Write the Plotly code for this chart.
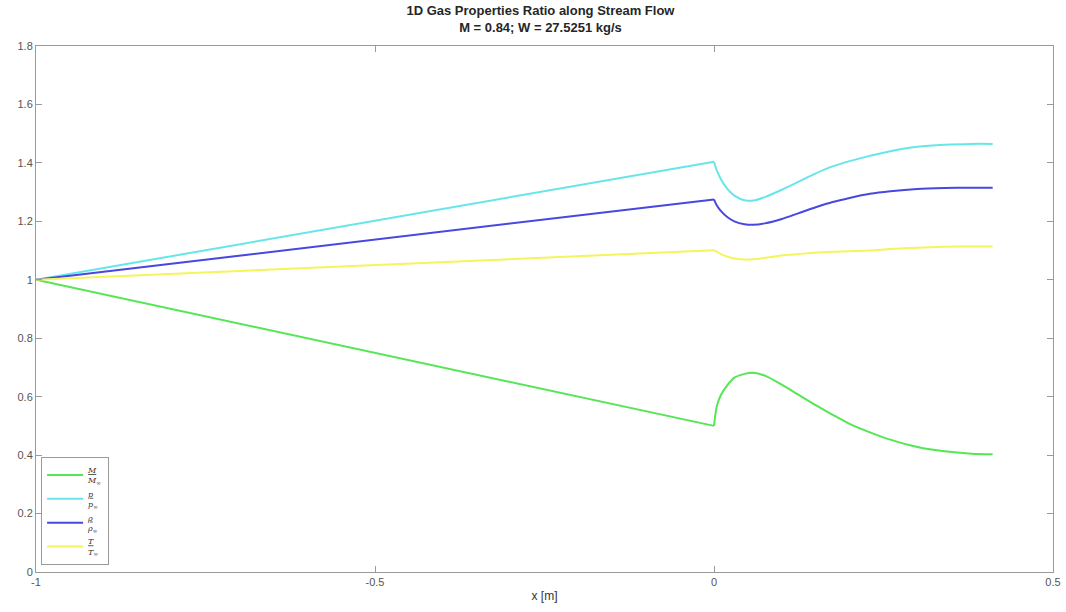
import plotly.graph_objects as go

# Station coordinates along the stream [m]
x = [-1.0, 0.0, 0.004, 0.01, 0.02, 0.03, 0.045, 0.058, 0.075, 0.1, 0.125,
     0.15, 0.175, 0.2, 0.23, 0.26, 0.3, 0.34, 0.38, 0.411]

# Property ratios relative to free-stream values
mach_ratio = [1.0, 0.500, 0.566, 0.605, 0.640, 0.665, 0.678, 0.682, 0.672, 0.641,
              0.606, 0.571, 0.538, 0.507, 0.478, 0.453, 0.428, 0.413, 0.405, 0.403]
pressure_ratio = [1.0, 1.404, 1.375, 1.345, 1.310, 1.288, 1.272, 1.271, 1.283, 1.308,
                  1.336, 1.364, 1.388, 1.406, 1.424, 1.440, 1.455, 1.462, 1.465, 1.465]
density_ratio = [1.0, 1.275, 1.255, 1.236, 1.214, 1.200, 1.190, 1.188, 1.193, 1.208,
                 1.228, 1.248, 1.266, 1.280, 1.294, 1.303, 1.311, 1.314, 1.315, 1.315]
temperature_ratio = [1.0, 1.101, 1.096, 1.088, 1.079, 1.073, 1.069, 1.070, 1.075, 1.083,
                     1.088, 1.093, 1.096, 1.098, 1.100, 1.105, 1.110, 1.113, 1.114, 1.114]

series = [
    ("<u><i>M</i></u><br><i>M</i><sub>∞</sub>", mach_ratio, "#55e655"),
    ("<u><i>p</i></u><br><i>p</i><sub>∞</sub>", pressure_ratio, "#66e6ea"),
    ("<u><i>ρ</i></u><br><i>ρ</i><sub>∞</sub>", density_ratio, "#4848e0"),
    ("<u><i>T</i></u><br><i>T</i><sub>∞</sub>", temperature_ratio, "#f4f45c"),
]

fig = go.Figure()
for i, (name, vals, color) in enumerate(series):
    grp = f"g{i}"
    # upstream ramp: straight segment up to the inlet at x = 0
    fig.add_trace(go.Scatter(x=x[:2], y=vals[:2], mode="lines", name=name,
                             legendgroup=grp, showlegend=True,
                             line=dict(color=color, width=2)))
    # downstream region: smooth curve from the inlet onwards
    fig.add_trace(go.Scatter(x=x[1:], y=vals[1:], mode="lines", name=name,
                             legendgroup=grp, showlegend=False,
                             line=dict(color=color, width=2, shape="spline", smoothing=0.8)))

axis_style = dict(showline=True, linecolor="#9a9a9a", linewidth=1, mirror="ticks",
                  ticks="inside", ticklen=6, tickcolor="#9a9a9a", showgrid=False,
                  zeroline=False, automargin=False,
                  tickfont=dict(family="Liberation Sans, Arial", size=11, color="#555555"))

fig.update_layout(
    width=1066, height=612,
    margin=dict(l=36, r=13, t=46, b=40),
    paper_bgcolor="white", plot_bgcolor="white",
    title=dict(text="<b>1D Gas Properties Ratio along Stream Flow<br>M = 0.84; W = 27.5251 kg/s</b>",
               x=0.507, xanchor="center", yref="container", y=0.975, yanchor="middle",
               font=dict(family="Liberation Sans, Arial", size=13, color="#262626")),
    xaxis=dict(range=[-1, 0.5], tickvals=[-1, -0.5, 0, 0.5], ticktext=["-1", "-0.5", "0", "0.5"],
               title=dict(text="x [m]", standoff=4,
                          font=dict(family="Liberation Sans, Arial", size=12, color="#333333")),
               **axis_style),
    yaxis=dict(range=[0, 1.8], tickvals=[0, 0.2, 0.4, 0.6, 0.8, 1, 1.2, 1.4, 1.6, 1.8],
               ticktext=["0", "0.2", "0.4", "0.6", "0.8", "1", "1.2", "1.4", "1.6", "1.8"],
               **axis_style),
    legend=dict(x=0.005, y=0.013, xanchor="left", yanchor="bottom",
                bgcolor="white", bordercolor="#9a9a9a", borderwidth=1,
                font=dict(family="DejaVu Serif, serif", size=8, color="#333333"),
                itemwidth=36, tracegroupgap=0),
    showlegend=True,
)

fig.write_html("out.html")
